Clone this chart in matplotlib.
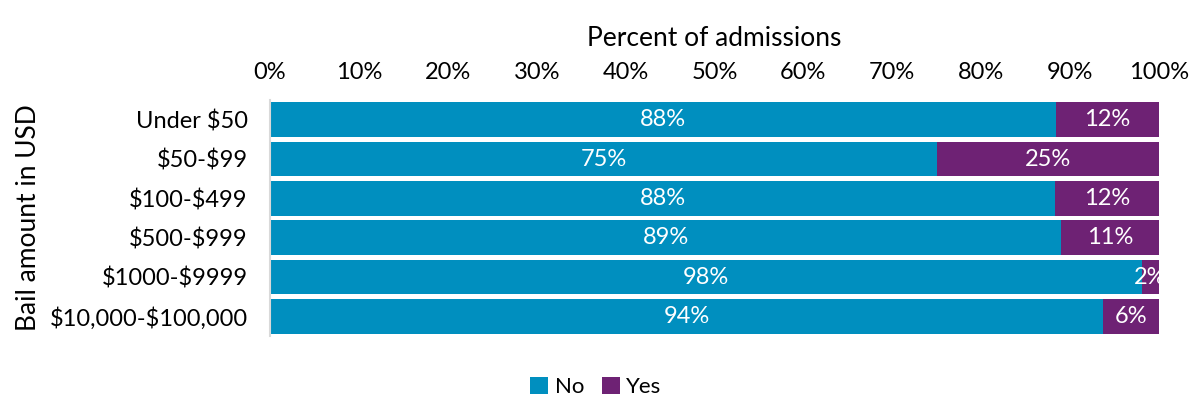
import numpy as np
import matplotlib.pyplot as plt

plt.rcParams['font.family'] = ['Lato', 'DejaVu Sans']
plt.rcParams['text.parse_math'] = False

categories = ['Under $50', '$50-$99', '$100-$499', '$500-$999', '$1000-$9999', '$10,000-$100,000']
no_vals = [88.4, 75.0, 88.3, 89.0, 98.1, 93.7]
yes_vals = [11.6, 25.0, 11.7, 11.0, 1.9, 6.3]
no_labels = ['88%', '75%', '88%', '89%', '98%', '94%']
yes_labels = ['12%', '25%', '12%', '11%', '2%', '6%']

fig = plt.figure(figsize=(11.92, 3.98), dpi=100)
ax = fig.add_axes([270 / 1192, 1 - 336 / 398, 889 / 1192, 236 / 398])

y = np.arange(len(categories))
blue = '#008FBF'
purple = '#6E2274'
b1 = ax.barh(y, no_vals, height=0.88, color=blue, label='No')
b2 = ax.barh(y, yes_vals, left=no_vals, height=0.88, color=purple, label='Yes')

for i in range(len(categories)):
    ax.text(no_vals[i] / 2, y[i], no_labels[i], ha='center', va='center',
            color='white', fontsize=17)
    xc = no_vals[i] + yes_vals[i] / 2
    if yes_vals[i] < 3:
        xc = 99.0
    ax.text(xc, y[i], yes_labels[i], ha='center', va='center',
            color='white', fontsize=17)

ax.set_xlim(0, 100)
ax.set_ylim(len(categories) - 0.5, -0.5)
ax.set_yticks(y)
ax.set_yticklabels(categories, fontsize=17)
ax.set_xticks(np.arange(0, 101, 10))
ax.set_xticklabels([f'{v}%' for v in range(0, 101, 10)], fontsize=17)
ax.xaxis.tick_top()
ax.xaxis.set_label_position('top')
ax.set_xlabel('Percent of admissions', fontsize=19, labelpad=12)
ax.set_ylabel('Bail amount in USD', fontsize=19, labelpad=6)
ax.tick_params(axis='x', length=0, pad=12)
ax.tick_params(axis='y', length=0, pad=16)
for s in ['top', 'right', 'bottom']:
    ax.spines[s].set_visible(False)
ax.spines['left'].set_color('#D9D9D9')
ax.spines['left'].set_linewidth(1.5)

fig.legend(handles=[b1, b2], loc='center', bbox_to_anchor=(0.5, 1 - 387 / 398),
           ncol=2, frameon=False, fontsize=16, handlelength=0.8, handleheight=0.8,
           handletextpad=0.3, columnspacing=0.8)

fig.savefig('out.png', dpi=100)
